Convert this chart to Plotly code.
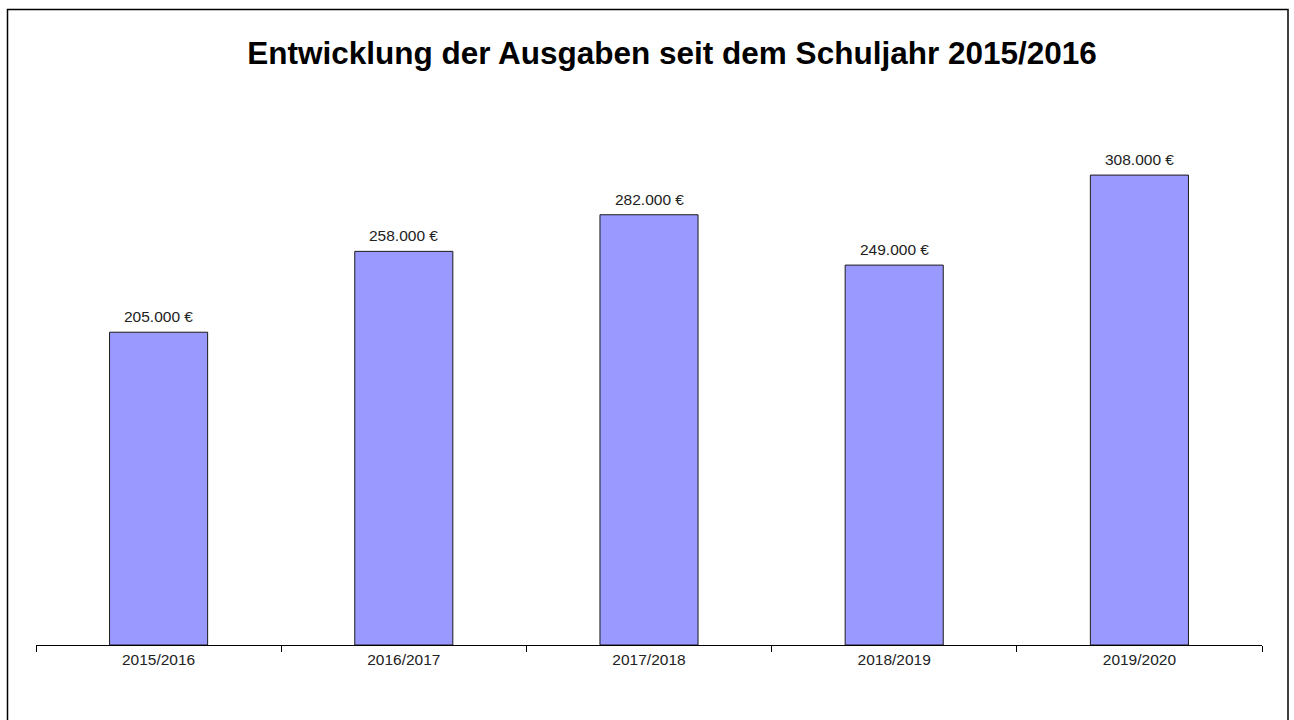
import plotly.graph_objects as go

categories = ["2015/2016", "2016/2017", "2017/2018", "2018/2019", "2019/2020"]
values = [205000, 258000, 282000, 249000, 308000]
labels = ["205.000 €", "258.000 €", "282.000 €", "249.000 €", "308.000 €"]
title_text = "Entwicklung der Ausgaben seit dem Schuljahr 2015/2016"

W, H = 1294, 720
L, R, T, B = 36, 32, 111, 75
pw = W - L - R
ph = H - T - B

fig = go.Figure()
fig.add_trace(go.Bar(
    x=categories, y=values,
    marker=dict(color="#9999FF", line=dict(color="#1a1a1a", width=1)),
    width=0.4,
    hoverinfo="skip",
))

for c, v, t in zip(categories, values, labels):
    fig.add_annotation(x=c, y=v, text=t, showarrow=False, yanchor="bottom",
                       yshift=5, font=dict(family="Liberation Sans, Arial", size=15.5, color="#222222"))

# outer border
fig.add_shape(type="rect", xref="paper", yref="paper",
              x0=(7.5 - L) / pw, x1=(1288 - L) / pw,
              y0=(645 - 740) / ph, y1=(645 - 9.5) / ph,
              line=dict(color="black", width=1.5), layer="below")

fig.update_layout(
    width=W, height=H,
    margin=dict(l=L, r=R, t=T, b=B),
    paper_bgcolor="white", plot_bgcolor="white",
    showlegend=False,
    title=dict(text="<b>" + title_text + "</b>", x=672 / W, xanchor="center",
               y=1 - 53 / H, yanchor="middle",
               font=dict(family="Liberation Sans, Arial", size=31.5, color="black")),
    xaxis=dict(showline=True, linecolor="black", linewidth=1,
               ticks="outside", tickson="boundaries", ticklen=6, tickcolor="black",
               tickfont=dict(family="Liberation Sans, Arial", size=15.5, color="#222222"),
               showgrid=False, zeroline=False),
    yaxis=dict(range=[0, 350000], visible=False, showgrid=False, zeroline=False),
    bargap=0.6,
)

fig.write_html("out.html", config={"displayModeBar": False},
               post_script="document.body.style.margin='0';document.body.style.overflow='hidden';")
